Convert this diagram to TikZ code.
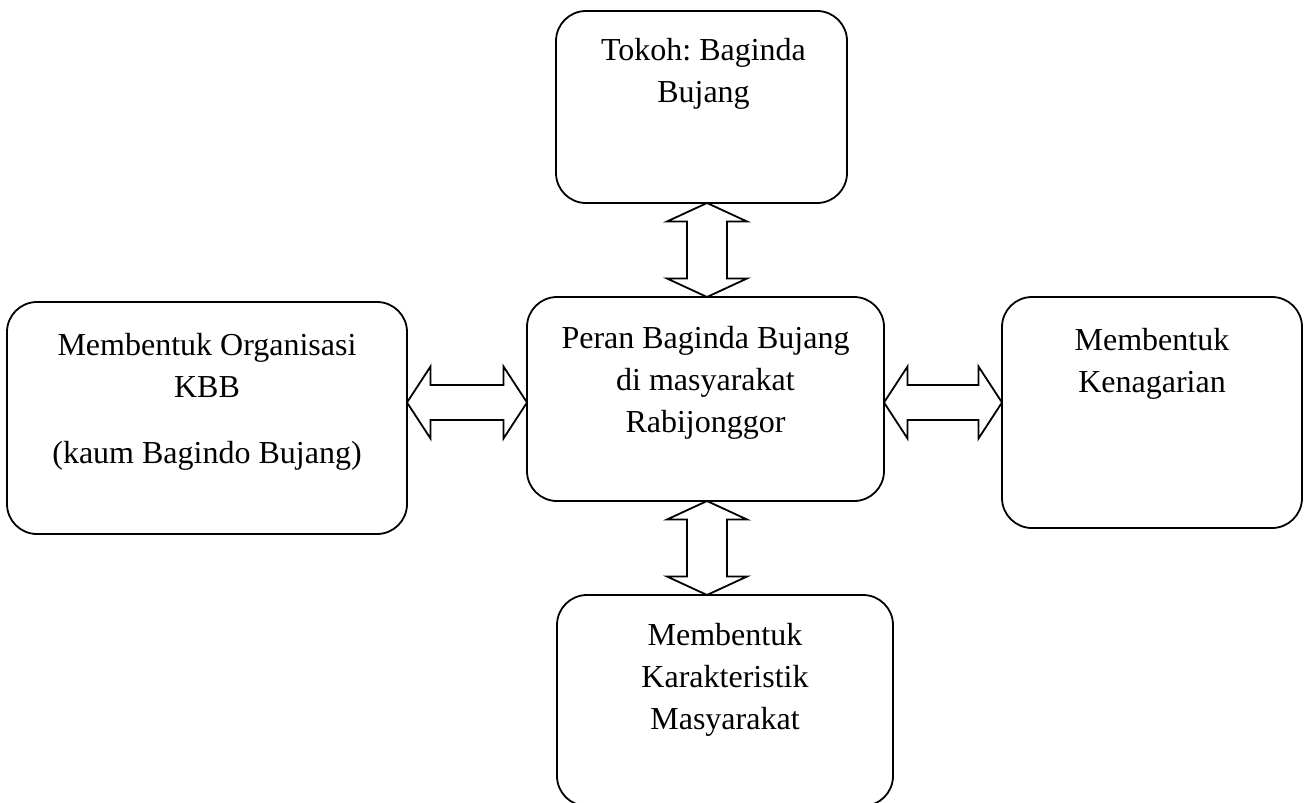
\documentclass[tikz,border=0pt]{standalone}
\usepackage{fontspec}
\setmainfont{Liberation Serif}
\frenchspacing
\usetikzlibrary{calc}
\tikzset{
  box/.style={draw, line width=1.8pt, rounded corners=30pt, inner sep=0pt, outer sep=0pt},
  txt/.style={anchor=base, inner sep=0pt, font=\fontsize{32}{42}\selectfont},
  blk/.style={draw, line width=1.8pt, fill=white, line join=miter}
}
\newcommand\vdblarrow[2]{%
  \draw[blk] (#1) -- ($(#1)+(40,18.5)$) -- ($(#1)+(20,18.5)$) -- ($(#2)+(20,-18.5)$) -- ($(#2)+(40,-18.5)$) -- (#2)
    -- ($(#2)+(-40,-18.5)$) -- ($(#2)+(-20,-18.5)$) -- ($(#1)+(-20,18.5)$) -- ($(#1)+(-40,18.5)$) -- cycle;}
\newcommand\hdblarrow[2]{%
  \draw[blk] (#1) -- ($(#1)+(23.5,-36)$) -- ($(#1)+(23.5,-17.5)$) -- ($(#2)+(-23.5,-17.5)$) -- ($(#2)+(-23.5,-36)$) -- (#2)
    -- ($(#2)+(-23.5,36)$) -- ($(#2)+(-23.5,17.5)$) -- ($(#1)+(23.5,17.5)$) -- ($(#1)+(23.5,36)$) -- cycle;}
\begin{document}
\begin{tikzpicture}[x=1pt,y=-1pt]
\clip (0,0) rectangle (1304,803);
% boxes
\node[box, minimum width=291pt, minimum height=192pt] (top) at (701.5,107) {};
\node[box, minimum width=357pt, minimum height=204pt] (ctr) at (705.5,399) {};
\node[box, minimum width=400pt, minimum height=232pt] (lft) at (207,418) {};
\node[box, minimum width=300pt, minimum height=231pt] (rgt) at (1152,412.5) {};
\node[box, minimum width=336pt, minimum height=211pt] (bot) at (725,700.5) {};
% texts
\node[txt] (topt) at ($(top.north)+(2,49)$) {\begin{tabular}[t]{@{}c@{}}Tokoh: Baginda\\Bujang\end{tabular}};
\node[txt] (ctrt) at ($(ctr.north)+(0,51)$) {\begin{tabular}[t]{@{}c@{}}Peran Baginda Bujang\\di masyarakat\\Rabijonggor\end{tabular}};
\node[txt] (lftt) at ($(lft.north)+(0,53)$) {\begin{tabular}[t]{@{}c@{}}Membentuk Organisasi\\KBB\\[24pt](kaum Bagindo Bujang)\end{tabular}};
\node[txt] (rgtt) at ($(rgt.north)+(0,53)$) {\begin{tabular}[t]{@{}c@{}}Membentuk\\Kenagarian\end{tabular}};
\node[txt] (bott) at ($(bot.north)+(0,50)$) {\begin{tabular}[t]{@{}c@{}}Membentuk\\Karakteristik\\Masyarakat\end{tabular}};
% arrows
\coordinate (ax) at (707,0);
\coordinate (ly) at (0,402.5);
\vdblarrow{ax |- top.south}{ax |- ctr.north}
\vdblarrow{ax |- ctr.south}{ax |- bot.north}
\hdblarrow{ly -| lft.east}{ly -| ctr.west}
\hdblarrow{ly -| ctr.east}{ly -| rgt.west}
\end{tikzpicture}
\end{document}
